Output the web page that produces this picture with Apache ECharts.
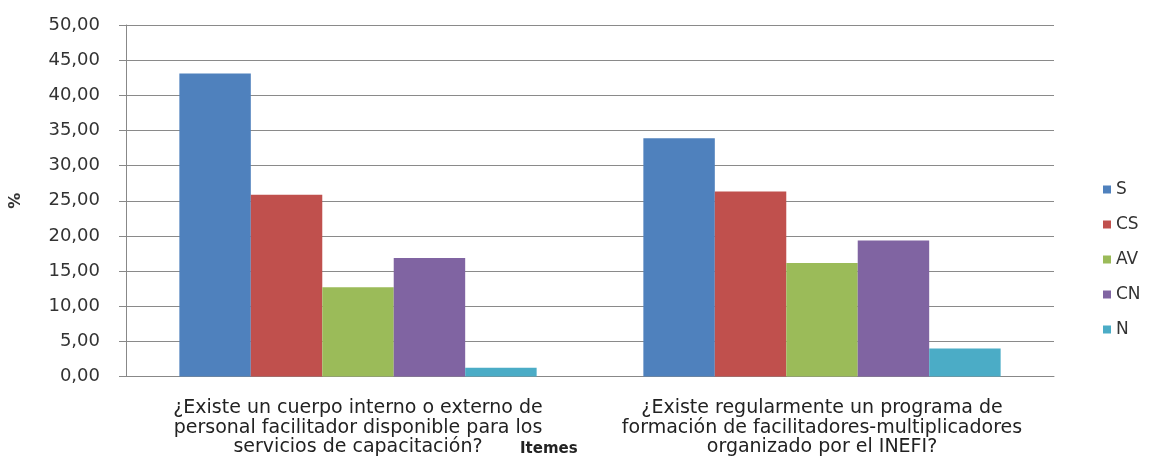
<!DOCTYPE html>
<html>
<head>
<meta charset="utf-8">
<script src="https://cdn.jsdelivr.net/npm/echarts@6/dist/echarts.min.js"></script>
<style>html,body{margin:0;padding:0;background:#fff;}#chart{width:1149px;height:457px;}</style>
</head>
<body>
<div id="chart"></div>
<script>
var categories = [
  '¿Existe un cuerpo interno o externo de\npersonal facilitador disponible para los\nservicios de capacitación?',
  '¿Existe regularmente un programa de\nformación de facilitadores-multiplicadores\norganizado por el INEFI?'
];
var seriesNames = ['S', 'CS', 'AV', 'CN', 'N'];
var S  = [43.10, 33.90];
var CS = [25.85, 26.30];
var AV = [12.70, 16.15];
var CN = [16.86, 19.36];
var N  = [1.23, 3.98];
var colors = ['#4F81BD', '#C0504D', '#9BBB59', '#8064A2', '#4BACC6'];
var values = [S, CS, AV, CN, N];

var chart = echarts.init(document.getElementById('chart'));
chart.setOption({
  animation: false,
  backgroundColor: '#ffffff',
  color: colors,
  title: {
    text: 'Itemes', left: 520, top: 442, padding: 0,
    textStyle: {fontFamily: 'DejaVu Sans', fontSize: 15, fontWeight: 'bold', color: '#222'}
  },
  legend: {
    orient: 'vertical', left: 1098, top: 176,
    itemWidth: 8, itemHeight: 8, itemGap: 18,
    icon: 'rect',
    textStyle: {fontFamily: 'DejaVu Sans', fontSize: 17, color: '#333'},
    data: seriesNames
  },
  grid: {left: 126, right: 95, top: 25, bottom: 80},
  xAxis: {
    type: 'category', data: categories,
    axisLine: {lineStyle: {color: '#888', width: 1}},
    axisTick: {show: false},
    axisLabel: {
      interval: 0, margin: 22, lineHeight: 19.5,
      fontFamily: 'DejaVu Sans', fontSize: 19, color: '#222'
    }
  },
  yAxis: {
    type: 'value', min: 0, max: 50, interval: 5,
    name: '%', nameLocation: 'middle', nameGap: 102, nameRotate: 90,
    nameTextStyle: {fontFamily: 'DejaVu Sans', fontSize: 16, fontWeight: 'bold', color: '#333'},
    axisLine: {show: true, lineStyle: {color: '#888'}},
    axisTick: {show: true, length: 7, lineStyle: {color: '#888'}},
    splitLine: {lineStyle: {color: '#8a8a8a', width: 1}},
    axisLabel: {
      margin: 26, fontFamily: 'DejaVu Sans', fontSize: 18, color: '#333',
      formatter: function (v) { return v.toFixed(2).replace('.', ','); }
    }
  },
  series: seriesNames.map(function (n, i) {
    return {
      name: n, type: 'bar', data: values[i],
      barGap: '0%', barCategoryGap: '23%',
      itemStyle: {color: colors[i]}
    };
  })
});
</script>
</body>
</html>
